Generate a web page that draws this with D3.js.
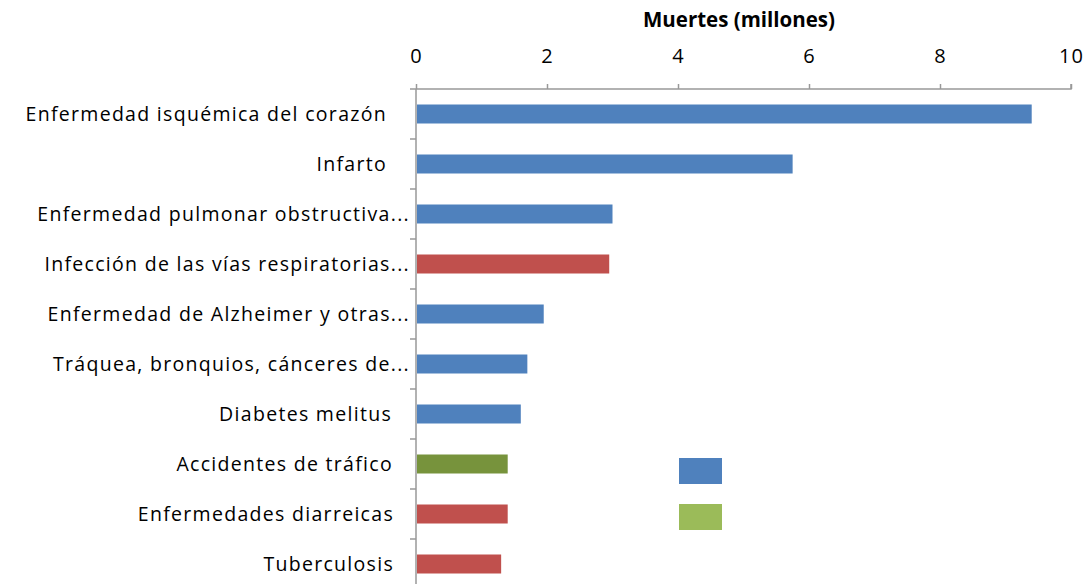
<!DOCTYPE html>
<html>
<head>
<meta charset="utf-8">
<script src="https://cdn.jsdelivr.net/npm/d3@7"></script>
<style>
  body { margin: 0; background: #fff; }
  svg text { font-family: "Open Sans", sans-serif; fill: #000; }
</style>
</head>
<body>
<svg width="1090" height="584"></svg>
<script>
// data (millions of deaths)
var categories = [
  "Enfermedad isquémica del corazón",
  "Infarto",
  "Enfermedad pulmonar obstructiva...",
  "Infección de las vías respiratorias...",
  "Enfermedad de Alzheimer y otras...",
  "Tráquea, bronquios, cánceres de...",
  "Diabetes melitus",
  "Accidentes de tráfico",
  "Enfermedades diarreicas",
  "Tuberculosis"
];
var deaths = [9.4, 5.75, 3.0, 2.95, 1.95, 1.7, 1.6, 1.4, 1.4, 1.3];
var groups = ["nc", "nc", "nc", "inf", "nc", "nc", "nc", "inj", "inf", "inf"];
var xTicks = [0, 2, 4, 6, 8, 10];
var legendGroups = ["nc", "injLight"];

var colors = { nc: "#4f81bd", inf: "#c0504d", inj: "#77933c", injLight: "#9bbb59" };
var labelEnd = [387, 387, 410, 410, 410, 410, 392, 393, 394, 394];

function draw() {
  var svg = d3.select("svg");

  var x = d3.scaleLinear().domain([0, 10]).range([416, 1071]);
  var y = d3.scaleBand()
    .domain(categories)
    .range([89, 589])
    .paddingInner(0.62)
    .paddingOuter(0.31);

  var step = y.step();

  // title
  svg.append("text")
    .attr("x", 739)
    .attr("y", 27)
    .attr("text-anchor", "middle")
    .style("font-weight", "bold")
    .style("font-size", "20.5px")
    .text("Muertes (millones)");

  // top axis
  var xAxis = svg.append("g")
    .attr("transform", "translate(0,89)")
    .call(d3.axisTop(x).tickValues(xTicks).tickSize(5).tickPadding(21).tickSizeOuter(0));
  xAxis.select(".domain")
    .attr("stroke", "#999").attr("stroke-width", 1.5)
    .attr("d", "M" + (x(0) - 6) + ",0H" + x(10) + "V-5");
  xAxis.selectAll(".tick line").attr("stroke", "#999").attr("stroke-width", 1.5);
  xAxis.selectAll(".tick text")
    .style("font-size", "20px")
    .style("letter-spacing", "1px");

  // left axis line + category ticks
  var yAxis = svg.append("g");
  yAxis.append("line")
    .attr("x1", x(0)).attr("x2", x(0))
    .attr("y1", 89).attr("y2", 584)
    .attr("stroke", "#999").attr("stroke-width", 1.5);
  yAxis.selectAll(".ctick")
    .data(categories)
    .enter()
    .append("line")
    .attr("x1", x(0) - 6).attr("x2", x(0))
    .attr("y1", function (d) { return y(d) - y.paddingOuter() * step + step; })
    .attr("y2", function (d) { return y(d) - y.paddingOuter() * step + step; })
    .attr("stroke", "#999").attr("stroke-width", 1.5);

  // category labels
  svg.selectAll(".cat")
    .data(categories)
    .enter()
    .append("text")
    .attr("class", "cat")
    .attr("x", function (d, i) { return labelEnd[i]; })
    .attr("y", function (d) { return y(d) + y.bandwidth() / 2; })
    .attr("dy", "0.35em")
    .attr("text-anchor", "end")
    .style("font-size", "19.5px")
    .style("letter-spacing", "1.3px")
    .text(function (d) { return d; });

  // bars
  svg.selectAll(".bar")
    .data(categories)
    .enter()
    .append("rect")
    .attr("class", "bar")
    .attr("x", x(0) + 1)
    .attr("y", function (d) { return y(d); })
    .attr("width", function (d, i) { return x(deaths[i]) - x(0) - 1; })
    .attr("height", y.bandwidth())
    .attr("fill", function (d, i) { return colors[groups[i]]; });

  // legend swatches (no text visible in the picture)
  svg.selectAll(".leg")
    .data(legendGroups)
    .enter()
    .append("rect")
    .attr("class", "leg")
    .attr("x", 679)
    .attr("y", function (d, i) { return 458 + i * 46; })
    .attr("width", 43)
    .attr("height", 26)
    .attr("fill", function (d) { return colors[d]; });
}

draw();
</script>
</body>
</html>
